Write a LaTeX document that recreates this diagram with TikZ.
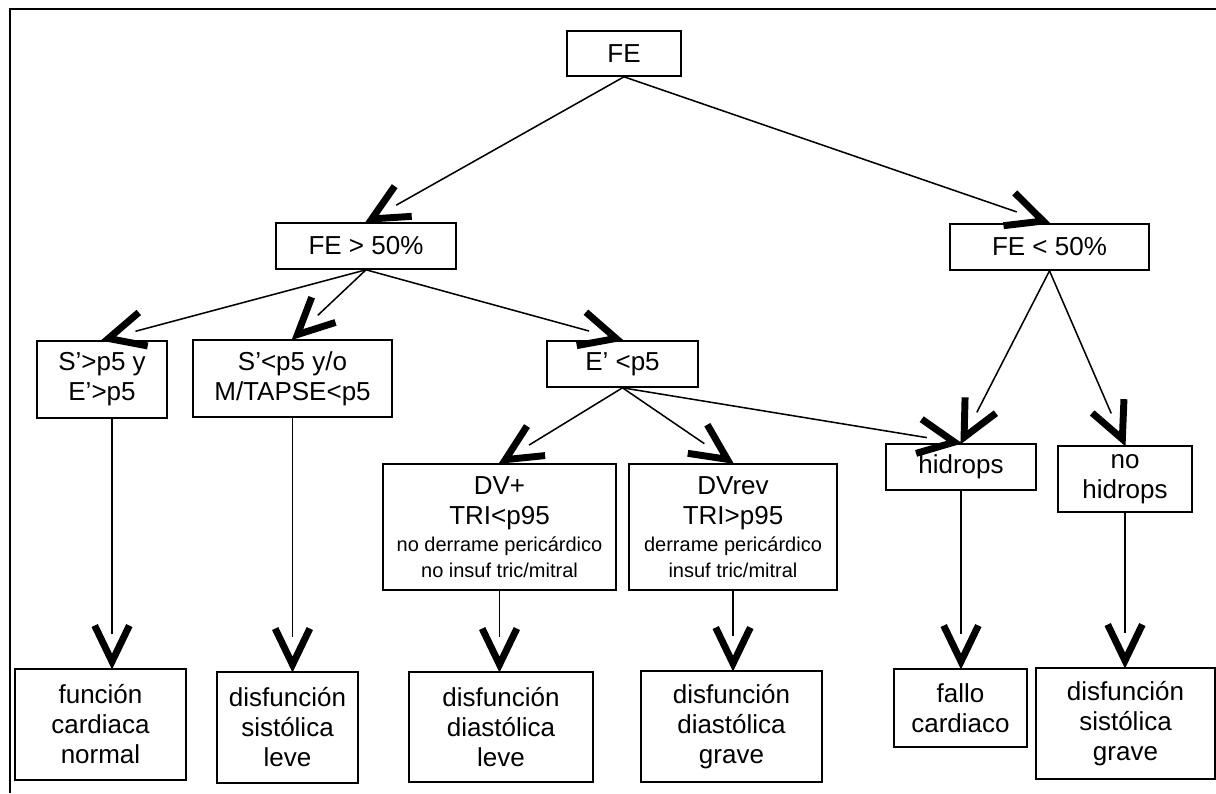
\documentclass[tikz,border=0pt]{standalone}
\usepackage{fontspec}
\setmainfont{Liberation Sans}
\usetikzlibrary{decorations.markings,calc}
\newcommand{\sm}{\fontsize{15}{16.5}\selectfont}
\begin{document}
\begin{tikzpicture}[x=0.75pt,y=-0.75pt,
  box/.style={draw, line width=1.2pt, inner sep=0pt, align=center, font=\fontsize{19.5}{22.5}\selectfont},
  sz/.style 2 args={minimum width=#1*0.75pt, minimum height=#2*0.75pt},
  vhead/.style={line width=5.2pt, line join=miter, line cap=butt, miter limit=10, shorten >=0pt, shorten <=0pt},
  conn/.style={draw, line width=1.15pt, shorten >=26pt, postaction={decorate},
    decoration={markings, mark=at position 1 with {\draw[vhead] (-32pt,13pt) -- (-5pt,0pt) -- (-32pt,-13pt);}}},
  frame/.style={line width=1.3pt}]
\useasboundingbox (0,0) rectangle (1216,793);
\draw[frame] (10,793) -- (10,9) -- (1216,9);

\node[box, sz={114}{45}] (FE) at (624,53.5) {FE};
\node[box, sz={180}{46}] (G) at (366,246) {FE > 50\%};
\node[box, sz={199}{46}] (L) at (1049.5,247) {FE < 50\%};
\node[box, sz={130}{77}] (Sg) at (102,379.5) {S’>p5 y\\E’>p5};
\node[box, sz={199}{77}] (Sl) at (292.5,378.5) {S’<p5 y/o\\M/TAPSE<p5};
\node[box, sz={151}{46}] (Ep) at (622.5,364) {E’ <p5};
\node[box, sz={233}{126}] (DVp) at (499.5,527) {DV+\\TRI<p95\\[-2pt]{\sm no derrame pericárdico}\\[-3pt]{\sm no insuf tric/mitral}};
\node[box, sz={208}{126}] (DVr) at (733,527) {DVrev\\TRI>p95\\[-2pt]{\sm derrame pericárdico}\\[-3pt]{\sm insuf tric/mitral}};
\node[box, sz={150}{46}] (hid) at (961,467) {hidrops};
\node[box, sz={134}{66}] (nohid) at (1125,479) {no\\hidrops};
\node[box, sz={171}{111}] (func) at (100.5,724.5) {función\\cardiaca\\normal};
\node[box, sz={141}{111}] (sisl) at (287.5,727.5) {disfunción\\sistólica\\leve};
\node[box, sz={184}{110}] (dial) at (501,727) {disfunción\\diastólica\\leve};
\node[box, sz={181}{111}] (diag) at (731.5,726.5) {disfunción\\diastólica\\grave};
\node[box, sz={133}{78}] (fallo) at (960.5,708) {fallo\\cardiaco};
\node[box, sz={179}{111}] (sisg) at (1125.5,723.5) {disfunción\\sistólica\\grave};

\draw[conn] (FE.south) -- (G.north);
\draw[conn] (FE.south) -- (L.north);
\draw[conn] (G.south) -- (Sg.north);
\draw[conn] (G.south) -- (Sl.north);
\draw[conn] (G.south) -- (Ep.north);
\draw[conn] (Ep.south) -- (DVp.north);
\draw[conn] (Ep.south) -- (DVr.north);
\draw[conn] (Ep.south) -- (hid.north);
\draw[conn] (L.south) -- (hid.north);
\draw[conn] (L.south) -- (nohid.north);

\coordinate (a1) at ($(Sg.south)+(10,0)$);
\draw[conn] (a1) -- (a1 |- func.north);
\draw[conn] (Sl.south) -- (Sl.south |- sisl.north);
\draw[conn] (DVp.south) -- (DVp.south |- dial.north);
\draw[conn] (DVr.south) -- (DVr.south |- diag.north);
\draw[conn] (hid.south) -- (hid.south |- fallo.north);
\draw[conn] (nohid.south) -- (nohid.south |- sisg.north);
\end{tikzpicture}
\end{document}
